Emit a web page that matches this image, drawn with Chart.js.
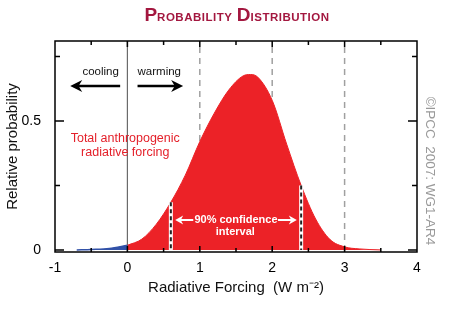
<!DOCTYPE html>
<html>
<head>
<meta charset="utf-8">
<script src="https://cdn.jsdelivr.net/npm/chart.js@4.4.1/dist/chart.umd.min.js"></script>
<style>
  html, body { margin: 0; padding: 0; background: #fff; }
  #wrap { position: relative; width: 460px; height: 317px; }
  #title {
    position: absolute; left: 0; top: 5px; width: 474px; text-align: center;
    font-family: "Liberation Sans", Arial, sans-serif; font-weight: bold;
    color: #a3173f; line-height: 20px; white-space: nowrap;
  }
  #title .big { font-size: 19px; }
  #title .sm { font-size: 11.5px; letter-spacing: 0.5px; }
</style>
</head>
<body>
<div id="wrap">
  <canvas id="chart" width="460" height="317"></canvas>
  <div id="title"><span class="big">P</span><span class="sm">ROBABILITY</span> <span class="big">D</span><span class="sm">ISTRIBUTION</span></div>
</div>
<script>
// Radiative forcing (W m-2) and relative probability
const forcingX = [-0.7, -0.5, -0.25, 0, 0.2, 0.4, 0.6, 0.8, 1.0, 1.2, 1.4, 1.6, 1.7, 1.8, 2.0, 2.2, 2.4, 2.6, 2.8, 3.0, 3.2, 3.5];
const probY    = [0, 0.002, 0.006, 0.018, 0.042, 0.10, 0.185, 0.29, 0.42, 0.53, 0.62, 0.675, 0.68, 0.67, 0.58, 0.41, 0.25, 0.12, 0.04, 0.012, 0.004, 0];

const xTicks   = [-1, 0, 1, 2, 3, 4];
const yTicks   = [0, 0.25, 0.5, 0.75];
const yLabels  = { 0: '0', 0.5: '0.5' };
const refLineX = [1, 2, 3];          // dashed guides
const ciX      = [0.6, 2.4];         // 90% confidence bounds
const ciTop    = [0.185, 0.25];

const FONT = '"Liberation Sans", Arial, sans-serif';
const RED  = '#ec2227';
const BLUE = '#3252a8';

const pts = forcingX.map((x, i) => ({ x, y: probY[i] }));
const coolPts = pts.filter(p => p.x <= 0);
const warmPts = pts.filter(p => p.x >= 0);

function arrow(ctx, x1, y, x2, color, lw, headLen, headW) {
  const dir = Math.sign(x2 - x1);
  ctx.strokeStyle = color;
  ctx.fillStyle = color;
  ctx.lineWidth = lw;
  ctx.beginPath();
  ctx.moveTo(x1, y);
  ctx.lineTo(x2 - dir * headLen * 0.6, y);
  ctx.stroke();
  ctx.beginPath();
  ctx.moveTo(x2, y);
  ctx.lineTo(x2 - dir * headLen, y - headW / 2);
  ctx.lineTo(x2 - dir * headLen * 0.7, y);
  ctx.lineTo(x2 - dir * headLen, y + headW / 2);
  ctx.closePath();
  ctx.fill();
}

// ── Guides behind the curve ─────────────────────────────
const guides = {
  id: 'guides',
  beforeDatasetsDraw(chart) {
    const { ctx, chartArea: a, scales: { x } } = chart;
    ctx.save();
    ctx.strokeStyle = '#6b6b6b';
    ctx.lineWidth = 1.2;
    const x0 = x.getPixelForValue(0);
    ctx.beginPath(); ctx.moveTo(x0, a.top); ctx.lineTo(x0, a.bottom); ctx.stroke();

    ctx.strokeStyle = '#a0a0a0';
    ctx.lineWidth = 1.5;
    ctx.setLineDash([6, 5]);
    refLineX.forEach(v => {
      const px = x.getPixelForValue(v);
      ctx.beginPath(); ctx.moveTo(px, a.top + 6); ctx.lineTo(px, a.bottom); ctx.stroke();
    });
    ctx.restore();
  }
};

// ── Frame, ticks and annotations on top ─────────────────
const overlay = {
  id: 'overlay',
  afterDatasetsDraw(chart) {
    const { ctx, chartArea: a, scales: { x, y } } = chart;
    ctx.save();

    // confidence bounds
    ciX.forEach((v, i) => {
      const px = x.getPixelForValue(v);
      const top = y.getPixelForValue(ciTop[i]);
      const bot = y.getPixelForValue(0);
      ctx.setLineDash([]);
      ctx.strokeStyle = '#fff'; ctx.lineWidth = 4;
      ctx.beginPath(); ctx.moveTo(px, top); ctx.lineTo(px, bot); ctx.stroke();
      ctx.setLineDash([4, 3]);
      ctx.strokeStyle = '#222'; ctx.lineWidth = 2;
      ctx.beginPath(); ctx.moveTo(px, top); ctx.lineTo(px, bot); ctx.stroke();
    });
    ctx.setLineDash([]);

    // frame
    ctx.strokeStyle = '#000';
    ctx.lineWidth = 1.5;
    ctx.strokeRect(a.left, a.top, a.right - a.left, a.bottom - a.top);

    // x ticks (inward, top and bottom)
    for (let v = -0.5; v < 4; v += 0.5) {
      const px = x.getPixelForValue(v);
      const len = Number.isInteger(v) ? 6 : 4;
      ctx.beginPath();
      ctx.moveTo(px, a.top); ctx.lineTo(px, a.top + len);
      ctx.moveTo(px, a.bottom); ctx.lineTo(px, a.bottom - len);
      ctx.stroke();
    }
    // y ticks (inward, left and right)
    yTicks.forEach(v => {
      const py = y.getPixelForValue(v);
      const len = (v === 0 || v === 0.5) ? 9 : 5;
      ctx.beginPath();
      ctx.moveTo(a.left, py); ctx.lineTo(a.left + len, py);
      ctx.moveTo(a.right, py); ctx.lineTo(a.right - len, py);
      ctx.stroke();
    });

    // cooling / warming
    ctx.font = '11.5px ' + FONT;
    ctx.fillStyle = '#111';
    ctx.textAlign = 'center';
    ctx.textBaseline = 'middle';
    ctx.fillText('cooling', x.getPixelForValue(-0.37), y.getPixelForValue(0.69));
    ctx.fillText('warming', x.getPixelForValue(0.44), y.getPixelForValue(0.69));
    const ay = y.getPixelForValue(0.636);
    arrow(ctx, x.getPixelForValue(-0.1), ay, x.getPixelForValue(-0.79), '#000', 2.5, 12, 12);
    arrow(ctx, x.getPixelForValue(0.14), ay, x.getPixelForValue(0.77), '#000', 2.5, 12, 12);

    // label
    ctx.font = '12.5px ' + FONT;
    ctx.fillStyle = '#e4202a';
    ctx.fillText('Total anthropogenic', x.getPixelForValue(-0.03), y.getPixelForValue(0.43));
    ctx.fillText('radiative forcing', x.getPixelForValue(-0.03), y.getPixelForValue(0.376));

    // 90% confidence interval
    ctx.font = 'bold 11px ' + FONT;
    ctx.fillStyle = '#fff';
    const cy = y.getPixelForValue(0.116);
    ctx.fillText('90% confidence', x.getPixelForValue(1.5), cy);
    ctx.fillText('interval', x.getPixelForValue(1.49), y.getPixelForValue(0.068));
    arrow(ctx, x.getPixelForValue(0.91), cy, x.getPixelForValue(0.66), '#fff', 2, 8, 9);
    arrow(ctx, x.getPixelForValue(2.08), cy, x.getPixelForValue(2.34), '#fff', 2, 8, 9);

    // credit
    ctx.font = '13.5px ' + FONT;
    ctx.fillStyle = '#999';
    ctx.translate(430, 171);
    ctx.rotate(Math.PI / 2);
    ctx.fillText('\u00A9IPCC  2007: WG1-AR4', 0, 0);
    ctx.restore();
  }
};

new Chart(document.getElementById('chart'), {
  type: 'line',
  data: {
    datasets: [
      {
        data: coolPts,
        borderColor: BLUE,
        backgroundColor: BLUE,
        borderWidth: 1.5,
        fill: 'origin',
        pointRadius: 0,
        cubicInterpolationMode: 'monotone',
      },
      {
        data: warmPts,
        borderColor: RED,
        backgroundColor: RED,
        borderWidth: 1,
        fill: 'origin',
        pointRadius: 0,
        cubicInterpolationMode: 'monotone',
      },
    ],
  },
  options: {
    responsive: false,
    animation: false,
    layout: { padding: { top: 41, right: 43, left: 0, bottom: 0 } },
    plugins: { legend: { display: false }, tooltip: { enabled: false } },
    scales: {
      x: {
        type: 'linear',
        min: -1, max: 4,
        grid: { display: false },
        border: { display: false },
        afterFit: s => { s.height = 65; },
        afterBuildTicks: s => { s.ticks = xTicks.map(v => ({ value: v })); },
        ticks: {
          color: '#000',
          padding: 0,
          font: { family: FONT, size: 14 },
          callback: v => String(v),
        },
        title: {
          display: true,
          text: 'Radiative Forcing  (W m\u207B\u00B2)',
          color: '#111',
          font: { family: FONT, size: 15 },
          padding: { top: 0, bottom: 20 },
        },
      },
      y: {
        min: -0.008, max: 0.81,
        grid: { display: false },
        border: { display: false },
        afterFit: s => { s.width = 55; },
        afterBuildTicks: s => { s.ticks = yTicks.map(v => ({ value: v })); },
        ticks: {
          color: '#000',
          padding: 6,
          font: { family: FONT, size: 14 },
          callback: v => yLabels[v] || '',
        },
        title: {
          display: true,
          text: 'Relative probability',
          color: '#111',
          font: { family: FONT, size: 15 },
          padding: { top: 3.5, bottom: 0 },
        },
      },
    },
  },
  plugins: [guides, overlay],
});
</script>
</body>
</html>
